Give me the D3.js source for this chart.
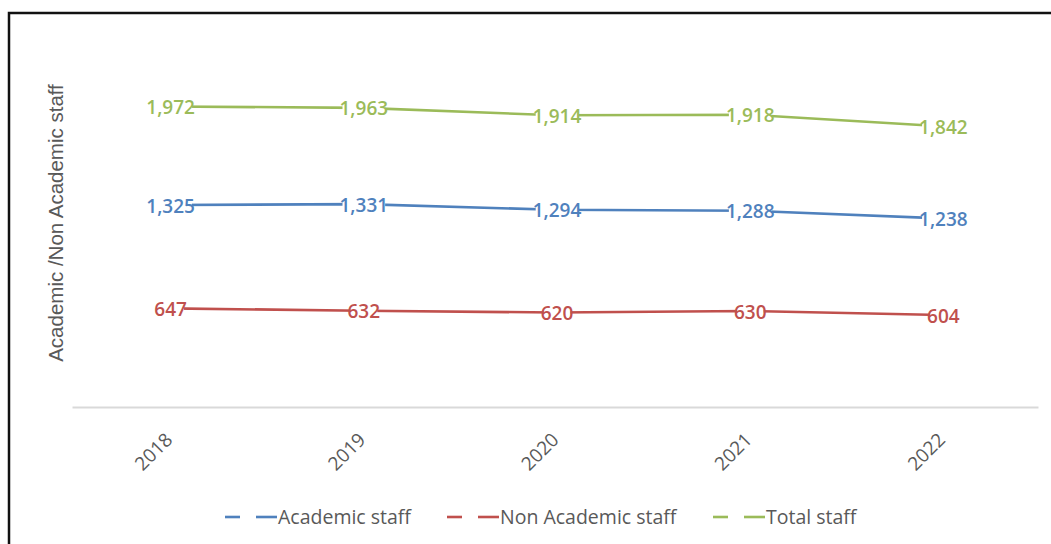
<!DOCTYPE html>
<html>
<head>
<meta charset="utf-8">
<script src="https://cdn.jsdelivr.net/npm/d3@7"></script>
<style>
  html, body { margin: 0; padding: 0; background: #fff; }
  svg { display: block; }
</style>
</head>
<body>
<svg id="chart" width="1051" height="544"></svg>
<script>
// Staff headcount by year
const years = ["2018", "2019", "2020", "2021", "2022"];
const academicStaff = [1325, 1331, 1294, 1288, 1238];
const nonAcademicStaff = [647, 632, 620, 630, 604];
const totalStaff = [1972, 1963, 1914, 1918, 1842];
const seriesNames = ["Academic staff", "Non Academic staff", "Total staff"];
const seriesColors = ["#4F81BD", "#C0504D", "#9BBB59"];
const yAxisTitle = "Academic /Non Academic staff";

const series = [
  { name: seriesNames[0], values: academicStaff, color: seriesColors[0] },
  { name: seriesNames[1], values: nonAcademicStaff, color: seriesColors[1] },
  { name: seriesNames[2], values: totalStaff, color: seriesColors[2] }
];

const svg = d3.select("#chart");

// frame
svg.append("rect")
  .attr("x", 9).attr("y", 13)
  .attr("width", 1100).attr("height", 600)
  .attr("fill", "#fff")
  .attr("stroke", "#111").attr("stroke-width", 2.5);

const plot = { left: 72, right: 1038, top: 26, bottom: 407 };

const x = d3.scaleBand().domain(years).range([plot.left, plot.right]);
const y = d3.scaleLinear().domain([0, 2500]).range([plot.bottom, plot.top]);
const cx = d => x(d) + x.bandwidth() / 2;

// category axis
const xAxis = svg.append("g")
  .attr("transform", `translate(0,${plot.bottom})`)
  .call(d3.axisBottom(x).tickSize(0).tickPadding(0));
xAxis.select(".domain").attr("stroke", "#d9d9d9").attr("stroke-width", 2);
xAxis.selectAll(".tick text")
  .attr("font-family", "Open Sans, sans-serif")
  .attr("font-size", 19)
  .attr("fill", "#595959")
  .attr("text-anchor", "end")
  .attr("dy", 0)
  .attr("transform", "translate(5,34) rotate(-45)");

// value axis title
svg.append("text")
  .attr("transform", "translate(63,223) rotate(-90)")
  .attr("text-anchor", "middle")
  .attr("font-family", "Liberation Sans, Arial, sans-serif")
  .attr("font-size", 20.5)
  .attr("fill", "#595959")
  .text(yAxisTitle);

const line = d3.line()
  .x((d, i) => cx(years[i]))
  .y(d => y(d));

series.forEach(s => {
  svg.append("path")
    .datum(s.values)
    .attr("fill", "none")
    .attr("stroke", s.color)
    .attr("stroke-width", 2.6)
    .attr("d", line);
});

// value labels centred on each point
series.forEach(s => {
  const g = svg.append("g");
  s.values.forEach((v, i) => {
    const lg = g.append("g").attr("transform", `translate(${cx(years[i]) + 2},${y(v) + 1})`);
    const bg = lg.append("rect").attr("fill", "#fff");
    const t = lg.append("text")
      .attr("text-anchor", "middle")
      .attr("dy", "0.35em")
      .attr("font-family", "Open Sans, sans-serif")
      .attr("font-weight", 600)
      .attr("font-size", 19)
      .attr("fill", s.color)
      .text(d3.format(",")(v));
    const b = t.node().getBBox();
    bg.attr("x", b.x + 3).attr("y", b.y + 3)
      .attr("width", b.width - 6).attr("height", b.height - 6);
  });
});

// legend
const legend = svg.append("g").attr("transform", "translate(0,517)");
const legendX = [225, 447, 713];
series.forEach((s, i) => {
  const g = legend.append("g").attr("transform", `translate(${legendX[i]},0)`);
  g.append("line").attr("x1", 0).attr("x2", 15).attr("y1", 0).attr("y2", 0)
    .attr("stroke", s.color).attr("stroke-width", 2.6);
  g.append("line").attr("x1", 31).attr("x2", 52).attr("y1", 0).attr("y2", 0)
    .attr("stroke", s.color).attr("stroke-width", 2.6);
  g.append("text")
    .attr("x", 53)
    .attr("dy", "0.35em")
    .attr("font-family", "Open Sans, sans-serif")
    .attr("font-size", 19.5)
    .attr("fill", "#595959")
    .text(s.name);
});
</script>
</body>
</html>
